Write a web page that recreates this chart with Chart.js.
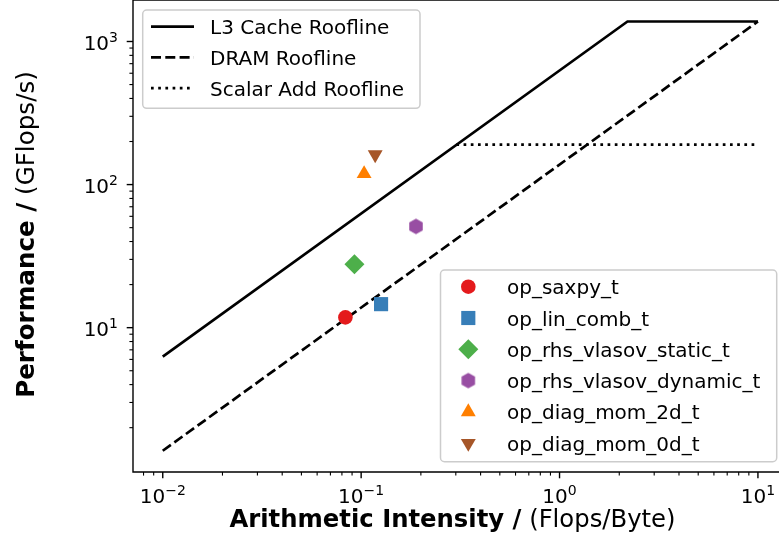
<!DOCTYPE html>
<html>
<head>
<meta charset="utf-8">
<script src="https://cdn.jsdelivr.net/npm/chart.js@4.4.0/dist/chart.umd.min.js"></script>
<style>
  html, body { margin: 0; padding: 0; background: #fff; overflow: hidden; }
  #wrap { position: relative; width: 779px; height: 550px; }
</style>
</head>
<body>
<div id="wrap"><canvas id="roofline" width="779" height="550"></canvas></div>
<script>
// roofline ceilings (x = Flops/Byte, y = GFlops/s)
var l3X = [0.01, 2.2, 10];
var l3Y = [6.28, 1380, 1380];
var dramX = [0.01, 10];
var dramY = [1.38, 1380];
var scalarX = [0.302, 10];
var scalarY = [190, 190];

// measured kernels
var kernelNames = ['op_saxpy_t', 'op_lin_comb_t', 'op_rhs_vlasov_static_t', 'op_rhs_vlasov_dynamic_t', 'op_diag_mom_2d_t', 'op_diag_mom_0d_t'];
var kernelAI = [0.0833, 0.126, 0.0925, 0.189, 0.1035, 0.1177];
var kernelPerf = [11.8, 14.6, 27.8, 51, 119, 162];
var kernelColors = ['#e41a1c', '#377eb8', '#4daf4a', '#984ea3', '#ff7f00', '#a65628'];

// axis ticks (labels are 10^exp)
var xTicks = [0.01, 0.1, 1, 10];
var xTickExp = ['\u22122', '\u22121', '0', '1'];
var yTicks = [10, 100, 1000];
var yTickExp = ['1', '2', '3'];

var FONT = '"DejaVu Sans", Verdana, sans-serif';

function hexagon(color, r) {
    var s = Math.ceil(r * 2 + 2);
    var c = document.createElement('canvas');
    c.width = s; c.height = s;
    var g = c.getContext('2d');
    g.beginPath();
    for (var i = 0; i < 6; i++) {
        var a = Math.PI / 2 + i * Math.PI / 3;
        var px = s / 2 + r * Math.cos(a), py = s / 2 - r * Math.sin(a);
        if (i) g.lineTo(px, py); else g.moveTo(px, py);
    }
    g.closePath();
    g.fillStyle = color;
    g.fill();
    return c;
}

var markerStyles = ['circle', 'rect', 'rectRot', hexagon(kernelColors[3], 7.8), 'triangle', 'triangle'];
var markerRot = [0, 0, 0, 0, 0, 180];
var markerSize = [7.3, 10, 10, 8, 8.6, 8.6];

function pts(xs, ys) {
    return xs.map(function (x, i) { return { x: x, y: ys[i] }; });
}

var datasets = [
    { label: 'L3 Cache Roofline', data: pts(l3X, l3Y), borderDash: [] },
    { label: 'DRAM Roofline', data: pts(dramX, dramY), borderDash: [10, 4.3] },
    { label: 'Scalar Add Roofline', data: pts(scalarX, scalarY), borderDash: [2.7, 4.5] }
].map(function (d) {
    d.showLine = true;
    d.borderColor = '#000';
    d.borderWidth = 2.7;
    d.pointRadius = 0;
    d.order = 2;
    d.roof = true;
    return d;
});

kernelNames.forEach(function (name, i) {
    datasets.push({
        label: name,
        data: [{ x: kernelAI[i], y: kernelPerf[i] }],
        pointStyle: markerStyles[i],
        pointRotation: markerRot[i],
        pointRadius: markerSize[i],
        backgroundColor: kernelColors[i],
        borderColor: kernelColors[i],
        borderWidth: 0,
        order: 1
    });
});

function drawMarker(ctx, style, rot, r, x, y, color) {
    ctx.save();
    ctx.fillStyle = color;
    ctx.beginPath();
    if (typeof style !== 'string') {
        ctx.drawImage(style, x - style.width / 2, y - style.height / 2);
        ctx.restore();
        return;
    }
    if (style === 'circle') {
        ctx.arc(x, y, r, 0, Math.PI * 2);
    } else if (style === 'rect') {
        var h = r * Math.SQRT1_2;
        ctx.rect(x - h, y - h, 2 * h, 2 * h);
    } else if (style === 'rectRot') {
        ctx.moveTo(x, y - r); ctx.lineTo(x + r, y); ctx.lineTo(x, y + r); ctx.lineTo(x - r, y);
    } else if (style === 'triangle') {
        var a = rot * Math.PI / 180;
        for (var k = 0; k < 3; k++) {
            var px = x + Math.sin(a) * r, py = y - Math.cos(a) * r;
            if (k) ctx.lineTo(px, py); else ctx.moveTo(px, py);
            a += Math.PI * 2 / 3;
        }
    }
    ctx.closePath();
    ctx.fill();
    ctx.restore();
}

function powLabel(ctx, exp, x, y, align) {
    ctx.font = '20px ' + FONT;
    var wb = ctx.measureText('10').width;
    ctx.font = '14px ' + FONT;
    var we = ctx.measureText(exp).width;
    var left = align === 'center' ? x - (wb + we) / 2 : x - (wb + we);
    ctx.font = '20px ' + FONT;
    ctx.fillText('10', left, y);
    ctx.font = '14px ' + FONT;
    ctx.fillText(exp, left + wb, y - 8);
}

function roundBox(ctx, x, y, w, h, r) {
    ctx.beginPath();
    ctx.moveTo(x + r, y);
    ctx.arcTo(x + w, y, x + w, y + h, r);
    ctx.arcTo(x + w, y + h, x, y + h, r);
    ctx.arcTo(x, y + h, x, y, r);
    ctx.arcTo(x, y, x + w, y, r);
    ctx.closePath();
    ctx.fillStyle = 'rgba(255,255,255,0.8)';
    ctx.fill();
    ctx.strokeStyle = '#cccccc';
    ctx.lineWidth = 1.5;
    ctx.stroke();
}

var decorations = {
    id: 'decorations',
    afterDraw: function (chart) {
        var ctx = chart.ctx;
        var area = chart.chartArea;
        var xs = chart.scales.x, ys = chart.scales.y;
        ctx.save();
        ctx.fillStyle = '#000';
        ctx.strokeStyle = '#000';

        // spines
        ctx.lineWidth = 1.4;
        ctx.beginPath();
        ctx.moveTo(area.left, area.top);
        ctx.lineTo(area.left, area.bottom);
        ctx.lineTo(area.right, area.bottom);
        ctx.moveTo(area.left, area.top);
        ctx.lineTo(area.right, area.top);
        ctx.stroke();

        // tick marks from the log scales (integer mantissas only)
        function tickMarks(scale, horiz) {
            scale.ticks.forEach(function (t) {
                var e = Math.floor(Math.log10(t.value) + 1e-9);
                var m = t.value / Math.pow(10, e);
                if (Math.abs(m - Math.round(m)) > 1e-6) return;
                var len = Math.round(m) === 1 ? 6.3 : 3.6;
                var p = scale.getPixelForValue(t.value);
                ctx.lineWidth = Math.round(m) === 1 ? 1.4 : 1.1;
                ctx.beginPath();
                if (horiz) { ctx.moveTo(p, area.bottom); ctx.lineTo(p, area.bottom + len); }
                else { ctx.moveTo(area.left, p); ctx.lineTo(area.left - len, p); }
                ctx.stroke();
            });
        }
        tickMarks(xs, true);
        tickMarks(ys, false);

        ctx.textBaseline = 'alphabetic';
        ctx.textAlign = 'left';
        xTicks.forEach(function (v, i) {
            powLabel(ctx, xTickExp[i], xs.getPixelForValue(v), 503, 'center');
        });
        yTicks.forEach(function (v, i) {
            powLabel(ctx, yTickExp[i], 118, ys.getPixelForValue(v) + 8.5, 'right');
        });

        // axis titles
        function mixedTitle(boldTxt, normTxt, cx, cy, size) {
            ctx.font = 'bold ' + size + 'px ' + FONT;
            var wb = ctx.measureText(boldTxt).width;
            ctx.font = size + 'px ' + FONT;
            var wn = ctx.measureText(normTxt).width;
            var left = cx - (wb + wn) / 2;
            ctx.font = 'bold ' + size + 'px ' + FONT;
            ctx.fillText(boldTxt, left, cy);
            ctx.font = size + 'px ' + FONT;
            ctx.fillText(normTxt, left + wb, cy);
        }
        mixedTitle('Arithmetic Intensity /', ' (Flops/Byte)', 452.5, 527, 24.3);
        ctx.save();
        ctx.translate(33.5, 234.5);
        ctx.rotate(-Math.PI / 2);
        mixedTitle('Performance /', ' (GFlops/s)', 0, 0, 24.6);
        ctx.restore();

        // legend 1: rooflines
        var roofs = chart.data.datasets.filter(function (d) { return d.roof; });
        roundBox(ctx, 142.7, 10, 277.3, 98.3, 4);
        ctx.font = '20px ' + FONT;
        roofs.forEach(function (d, i) {
            var yy = 26.7 + i * 30.7;
            ctx.save();
            ctx.strokeStyle = d.borderColor;
            ctx.lineWidth = d.borderWidth;
            ctx.setLineDash(d.borderDash);
            ctx.beginPath();
            ctx.moveTo(151, yy);
            ctx.lineTo(194, yy);
            ctx.stroke();
            ctx.restore();
            ctx.fillStyle = '#000';
            ctx.fillText(d.label, 210, yy + 7.5);
        });

        // legend 2: kernels
        var kern = chart.data.datasets.filter(function (d) { return !d.roof; });
        roundBox(ctx, 440.5, 270, 336.2, 191.7, 4);
        ctx.font = '20px ' + FONT;
        kern.forEach(function (d, i) {
            var yy = 286.7 + i * 31.3;
            drawMarker(ctx, d.pointStyle, d.pointRotation, d.pointRadius, 468.3, yy, d.backgroundColor);
            ctx.fillStyle = '#000';
            ctx.fillText(d.label, 507, yy + 7.5);
        });
        ctx.restore();
    }
};

new Chart(document.getElementById('roofline'), {
    type: 'scatter',
    data: { datasets: datasets },
    options: {
        responsive: false,
        animation: false,
        layout: { padding: 0, autoPadding: false },
        plugins: { legend: { display: false }, tooltip: { enabled: false } },
        scales: {
            x: {
                type: 'logarithmic',
                min: 0.00708,
                max: 12.77,
                ticks: { display: false },
                grid: { display: false },
                border: { display: false },
                afterFit: function (s) { s.height = 78; }
            },
            y: {
                type: 'logarithmic',
                min: 0.98,
                max: 1950,
                ticks: { display: false },
                grid: { display: false },
                border: { display: false },
                afterFit: function (s) { s.width = 133; }
            }
        }
    },
    plugins: [decorations]
});
</script>
</body>
</html>
